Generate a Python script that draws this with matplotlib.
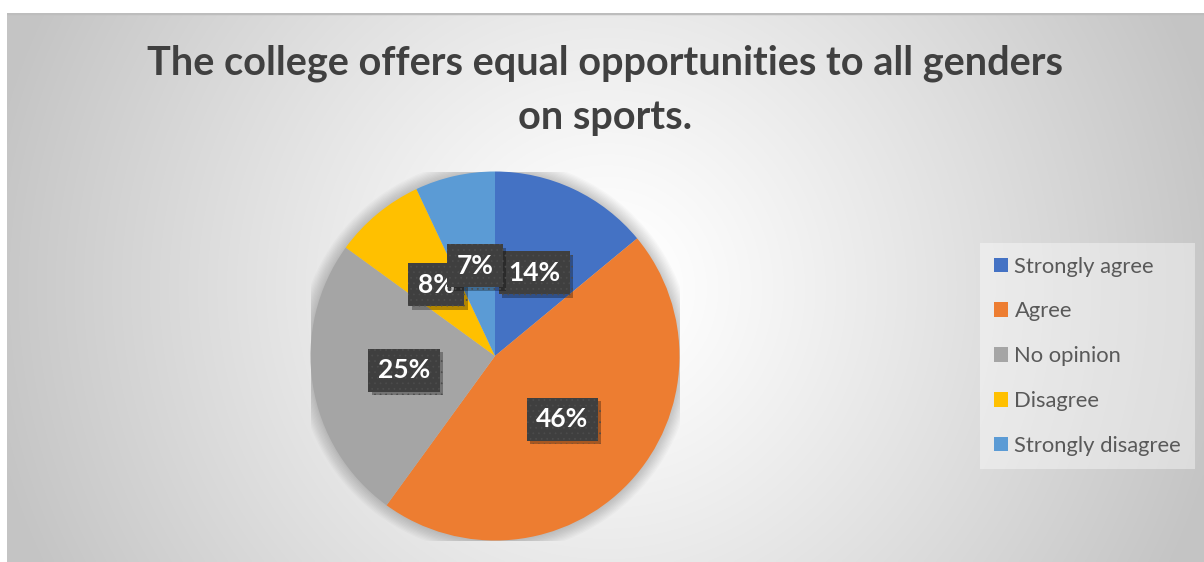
import numpy as np
import matplotlib
matplotlib.use("Agg")
import matplotlib.pyplot as plt
from matplotlib.patches import Patch, Circle
from matplotlib.patheffects import withSimplePatchShadow

plt.rcParams['font.family'] = ['Lato', 'DejaVu Sans']
plt.rcParams['hatch.linewidth'] = 0.5

title = "The college offers equal opportunities to all genders\non sports."
categories = ["Strongly agree", "Agree", "No opinion", "Disagree", "Strongly disagree"]
shares = [14, 46, 25, 8, 7]
colors = ["#4472C4", "#ED7D31", "#A5A5A5", "#FFC000", "#5B9BD5"]

W, H = 1204, 562
fig = plt.figure(figsize=(W / 100, H / 100), dpi=100, facecolor="white")

# chart area with a soft radial gradient
bg = fig.add_axes([7 / W, 0, 1 - 7 / W, 1 - 13 / H])
bg.set_axis_off()
ny, nx = 275, 600
yy, xx = np.mgrid[0:ny, 0:nx]
cx, cy = 0.50 * nx, 0.50 * ny
d = np.sqrt(((xx - cx) / (0.62 * nx)) ** 2 + ((yy - cy) / (0.62 * nx)) ** 2)
t = np.clip((d - 0.05) / 0.80, 0, 1)
val = 1.0 - (1.0 - 0.77) * t ** 1.1
img = np.dstack([val, val, val])
bg.imshow(img, aspect="auto", extent=[0, 1, 0, 1], interpolation="bilinear")
bg.set_xlim(0, 1)
bg.set_ylim(0, 1)
bg.axhline(1, color="#bdbdbd", lw=2.5)

fig.text(0.5 + 3 / W, 1 - 129 / H, title, ha="center", va="baseline",
         fontsize=28.5, fontweight="bold", color="#404040", linespacing=1.55)

# pie
cxp, cyp, r = 495, 356, 184.5
ax = fig.add_axes([(cxp - r) / W, 1 - (cyp + r) / H, 2 * r / W, 2 * r / H])
ax.set_axis_off()

# soft halo around the pie
for k in range(10):
    ax.add_patch(Circle((0, 0), 1.0 + 0.007 * (k + 1), color="black",
                        alpha=0.018, lw=0, zorder=0))

wedges, _, autotexts = ax.pie(
    shares, colors=colors, startangle=90, counterclock=False, radius=1.0,
    autopct=lambda p: f"{p:.0f}%", pctdistance=0.5,
    wedgeprops=dict(linewidth=0),
)
ax.set_xlim(-1, 1)
ax.set_ylim(-1, 1)
ax.set_aspect("equal")

for at in autotexts:
    at.set_color("white")
    at.set_fontsize(19)
    at.set_fontweight("bold")
    at.set_zorder(6)
    at.set_bbox(dict(boxstyle="square,pad=0.36", facecolor="#3f3f3f",
                     edgecolor="#4c4c4c", linewidth=0, hatch="..."))
    at.get_bbox_patch().set_path_effects(
        [withSimplePatchShadow(offset=(2.5, -2.5), shadow_rgbFace="black", alpha=0.3)])

handles = [Patch(facecolor=c, edgecolor="none") for c in colors]
leg = fig.legend(handles, categories, loc="upper left",
                 bbox_to_anchor=(980 / W, 1 - 243 / H), frameon=True,
                 fontsize=15.8, handlelength=0.65, handleheight=0.65,
                 handletextpad=0.3, labelspacing=1.13, borderpad=0.62,
                 borderaxespad=0, fancybox=False)
leg.get_frame().set_facecolor("white")
leg.get_frame().set_alpha(0.4)
leg.get_frame().set_edgecolor("none")
for txt in leg.get_texts():
    txt.set_color("#595959")

fig.savefig("out.png", dpi=100, facecolor="white")
